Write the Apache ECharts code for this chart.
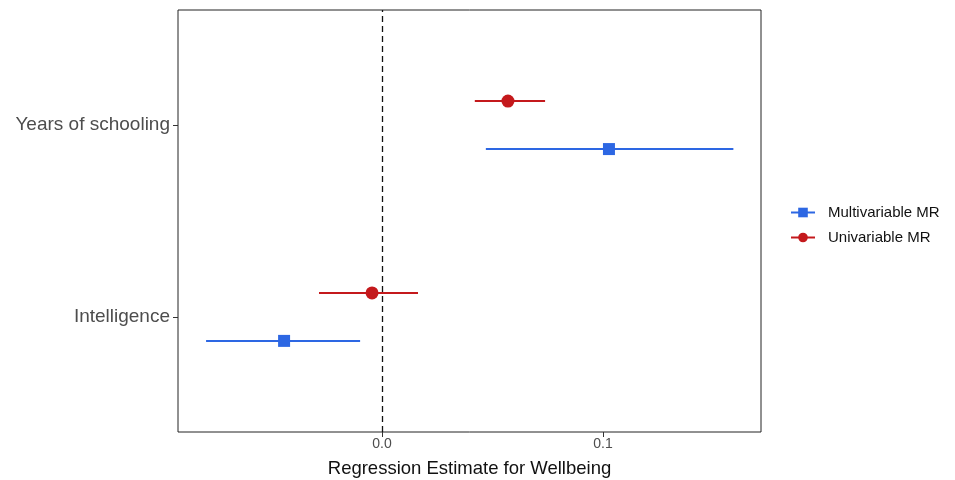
<!DOCTYPE html>
<html>
<head>
<meta charset="utf-8">
<script src="https://cdn.jsdelivr.net/npm/echarts@6/dist/echarts.min.js"></script>
<style>
  html, body { margin: 0; padding: 0; background: #fff; }
  #main { width: 955px; height: 480px; }
</style>
</head>
<body>
<div id="main"></div>
<script>
// exposures, bottom to top
const exposures = ["Intelligence", "Years of schooling"];
const seriesNames = ["Multivariable MR", "Univariable MR"];

// estimates and 95% CI, in the order of exposures
const multiEst = [-0.0443, 0.1027];
const multiLo = [-0.0796, 0.047];
const multiHi = [-0.0099, 0.159];

const uniEst = [-0.0045, 0.057];
const uniLo = [-0.0285, 0.042];
const uniHi = [0.0163, 0.0738];

const xTicks = [0.0, 0.1];

const chartDom = document.getElementById("main");
const myChart = echarts.init(chartDom);

const blue = "#2d67e3";
const red = "#c4191c";
const dodge = 0.125;

function pointData(est, offset) {
  let out = [];
  est.forEach((v, i) => {
    if (i > 0) out.push(["-", "-"]);
    out.push([v, i + 1 + offset]);
  });
  return out;
}

function barData(lo, hi, offset) {
  return lo.map((v, i) => [v, hi[i], i + 1 + offset]);
}

function renderBar(color) {
  return function (params, api) {
    const a = api.coord([api.value(0), api.value(2)]);
    const b = api.coord([api.value(1), api.value(2)]);
    return {
      type: "line",
      shape: { x1: a[0], y1: a[1], x2: b[0], y2: b[1] },
      style: { stroke: color, lineWidth: 2 },
    };
  };
}

let option = {
  animation: false,
  grid: {
    left: 178,
    right: 194,
    top: 10,
    bottom: 48,
    outerBoundsMode: "none",
    containLabel: false,
    show: true,
    borderColor: "#222",
    borderWidth: 1,
    backgroundColor: "#fff",
  },
  legend: {
    orient: "vertical",
    left: 785,
    top: 200,
    itemGap: 10,
    itemWidth: 24,
    itemHeight: 12,
    data: seriesNames,
    lineStyle: { width: 2 },
    textStyle: {
      fontFamily: "Liberation Sans, Arial",
      fontSize: 15,
      color: "#111",
      padding: [0, 0, 0, 8],
    },
  },
  xAxis: {
    type: "value",
    min: -0.0923,
    max: 0.1715,
    name: "Regression Estimate for Wellbeing",
    nameLocation: "middle",
    nameGap: 27,
    nameTextStyle: { fontFamily: "Liberation Sans, Arial", fontSize: 18.5, color: "#111" },
    splitLine: { show: false },
    axisLine: { show: false, onZero: false },
    axisTick: { show: true, length: 5, customValues: xTicks, lineStyle: { color: "#333" } },
    axisLabel: {
      customValues: xTicks,
      margin: 5,
      fontFamily: "Liberation Sans, Arial",
      fontSize: 14,
      color: "#4d4d4d",
      formatter: (v) => v.toFixed(1),
    },
  },
  yAxis: {
    type: "value",
    min: 0.4,
    max: 2.6,
    splitLine: { show: false },
    axisLine: { show: false, onZero: false },
    axisTick: { show: true, length: 5, customValues: [1, 2], lineStyle: { color: "#333" } },
    axisLabel: {
      customValues: [1, 2],
      margin: 8,
      fontFamily: "Liberation Sans, Arial",
      fontSize: 19,
      color: "#4d4d4d",
      formatter: (v) => exposures[Math.round(v) - 1] || "",
    },
  },
  series: [
    {
      name: "Multivariable MR",
      type: "line",
      data: pointData(multiEst, -dodge),
      connectNulls: false,
      symbol: "rect",
      symbolSize: 12,
      color: blue,
      lineStyle: { width: 0, color: blue },
      itemStyle: { color: blue },
      z: 5,
      markLine: {
        silent: true,
        symbol: "none",
        label: { show: false },
        lineStyle: { type: [6, 4], color: "#111", width: 1.3 },
        data: [{ xAxis: 0 }],
      },
    },
    {
      name: "Univariable MR",
      type: "line",
      data: pointData(uniEst, dodge),
      connectNulls: false,
      symbol: "circle",
      symbolSize: 13,
      color: red,
      lineStyle: { width: 0, color: red },
      itemStyle: { color: red },
      z: 5,
    },
    {
      name: "Multivariable MR",
      type: "custom",
      renderItem: renderBar(blue),
      data: barData(multiLo, multiHi, -dodge),
      encode: { x: [0, 1], y: 2 },
      z: 3,
    },
    {
      name: "Univariable MR",
      type: "custom",
      renderItem: renderBar(red),
      data: barData(uniLo, uniHi, dodge),
      encode: { x: [0, 1], y: 2 },
      z: 3,
    },
  ],
};

myChart.setOption(option);
</script>
</body>
</html>
